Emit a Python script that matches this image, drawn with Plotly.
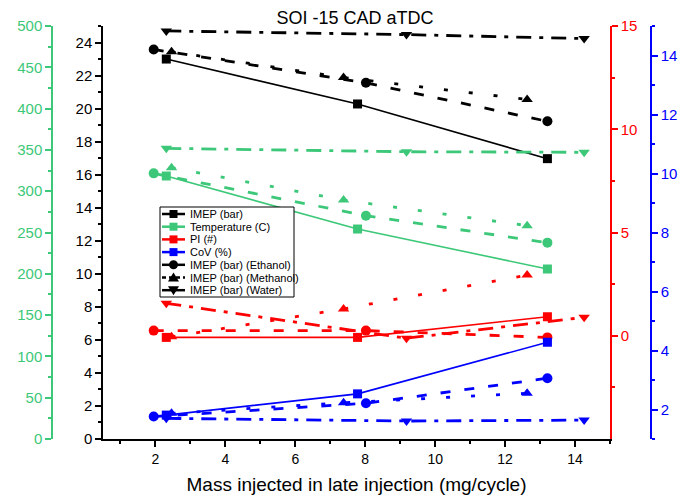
import plotly.graph_objects as go

# x positions (mg/cycle) for each case
x_base = [2.31, 7.78, 13.21]
x_ethanol = [1.95, 8.02, 13.21]
x_methanol = [2.46, 7.38, 12.63]
x_water = [2.31, 9.18, 14.26]

# IMEP (bar)
imep_base = [23.0, 20.28, 16.97]
imep_ethanol = [23.58, 21.56, 19.23]
imep_methanol = [23.44, 21.88, 20.55]
imep_water = [24.7, 24.48, 24.24]

# Temperature (C)
temp_base = [318.4, 254.2, 205.8]
temp_ethanol = [321.6, 270.3, 237.7]
temp_methanol = [328.5, 289.3, 258.3]
temp_water = [351.9, 347.8, 347.1]

# PI (#)
pi_base = [-0.08, -0.08, 0.92]
pi_ethanol = [0.25, 0.25, -0.08]
pi_methanol = [-0.05, 1.30, 2.94]
pi_water = [1.57, -0.12, 0.89]

# CoV (%)
cov_base = [1.81, 2.53, 4.28]
cov_ethanol = [1.76, 2.21, 3.06]
cov_methanol = [1.87, 2.23, 2.55]
cov_water = [1.70, 1.61, 1.64]

BLACK = "#000000"
GREEN = "#3CC878"
RED = "#FF0000"
BLUE = "#0000FF"
FONT = "Arial, Liberation Sans, sans-serif"

# page body has an 8px margin, so the figure is sized to the visible part
W, H = 685, 492
ML, MR, MT, MB = 2, 2, 18, 61
PW, PH = W - ML - MR, H - MT - MB


def px_x(px):
    return (px - 8 - ML) / PW


def px_y(py):
    return (H - MB - (py - 8)) / PH


cases = [
    # (name suffix, x, marker, dash, width)
    ("", x_base, "square", "solid", 1.6),
    (" (Ethanol)", x_ethanol, "circle", "10px,14px", 2.8),
    (" (Methanol)", x_methanol, "triangle-up", "4px,21px", 2.8),
    (" (Water)", x_water, "triangle-down", "15px,8px,4px,8px", 2.8),
]
quantities = [
    ("IMEP (bar)", "y", BLACK, [imep_base, imep_ethanol, imep_methanol, imep_water]),
    ("Temperature (C)", "y2", GREEN, [temp_base, temp_ethanol, temp_methanol, temp_water]),
    ("PI (#)", "y3", RED, [pi_base, pi_ethanol, pi_methanol, pi_water]),
    ("CoV (%)", "y4", BLUE, [cov_base, cov_ethanol, cov_methanol, cov_water]),
]

fig = go.Figure()
for qname, yref, color, series in quantities:
    for (suffix, xs, sym, dash, lw), ys in zip(cases, series):
        fig.add_trace(
            go.Scatter(
                x=xs,
                y=ys,
                yaxis=yref,
                mode="lines+markers",
                line=dict(color=color, width=lw, dash=dash),
                marker=dict(symbol=sym, size=10 if sym != "square" else 9, color=color),
                name=qname + suffix,
                showlegend=False,
                cliponaxis=False,
            )
        )

# legend drawn by hand: native legend rows are taller than the reference's
legend_rows = [
    ("IMEP (bar)", BLACK, "square", "solid"),
    ("Temperature (C)", GREEN, "square", "solid"),
    ("PI (#)", RED, "square", "solid"),
    ("CoV (%)", BLUE, "square", "solid"),
    ("IMEP (bar) (Ethanol)", BLACK, "circle", "solid"),
    ("IMEP (bar) (Methanol)", BLACK, "up", "4px,3px"),
    ("IMEP (bar) (Water)", BLACK, "down", "solid"),
]


def legend_marker(sym, cx, cy, color):
    common = dict(xref="paper", yref="paper", fillcolor=color, line=dict(width=0), layer="above")
    if sym == "square":
        return dict(type="rect", x0=px_x(cx - 4), x1=px_x(cx + 4), y0=px_y(cy + 4), y1=px_y(cy - 4), **common)
    if sym == "circle":
        return dict(type="circle", x0=px_x(cx - 4.5), x1=px_x(cx + 4.5), y0=px_y(cy + 4.5), y1=px_y(cy - 4.5), **common)
    if sym == "up":
        pts = [(cx, cy - 5), (cx + 5.5, cy + 4), (cx - 5.5, cy + 4)]
    else:
        pts = [(cx, cy + 5), (cx + 5.5, cy - 4), (cx - 5.5, cy - 4)]
    path = "M " + " L ".join(f"{px_x(a):.5f},{px_y(b):.5f}" for a, b in pts) + " Z"
    return dict(type="path", path=path, **common)


fig.add_shape(
    type="rect",
    xref="paper",
    yref="paper",
    x0=px_x(160),
    x1=px_x(294),
    y0=px_y(297),
    y1=px_y(207),
    line=dict(color=BLACK, width=1),
    fillcolor="white",
    layer="above",
)
for i, (name, color, sym, dash) in enumerate(legend_rows):
    yc_px = 214 + 12.7 * i
    yc = px_y(yc_px)
    fig.add_shape(
        type="line",
        xref="paper",
        yref="paper",
        x0=px_x(162),
        x1=px_x(185),
        y0=yc,
        y1=yc,
        line=dict(color=color, width=2.5, dash=dash),
        layer="above",
    )
    fig.add_shape(legend_marker(sym, 173.5, yc_px, color))
    fig.add_annotation(
        text=name,
        xref="paper",
        yref="paper",
        x=px_x(188),
        y=yc,
        xanchor="left",
        yanchor="middle",
        showarrow=False,
        font=dict(family=FONT, size=11, color=BLACK),
    )

axis_common = dict(
    showgrid=False,
    zeroline=False,
    showline=True,
    linewidth=1.5,
    ticks="outside",
    ticklen=6,
    tickwidth=1.5,
)

fig.update_layout(
    width=W,
    height=H,
    margin=dict(l=ML, r=MR, t=MT, b=MB),
    paper_bgcolor="white",
    plot_bgcolor="white",
    showlegend=False,
    title=dict(
        text="SOI -15 CAD aTDC",
        x=(355 - 8) / W,
        xanchor="center",
        y=1 - 3.5 / H,
        yanchor="top",
        font=dict(family=FONT, size=18, color=BLACK),
    ),
    xaxis=dict(
        **axis_common,
        domain=[px_x(103), px_x(610)],
        range=[0.5, 15],
        tick0=0,
        dtick=2,
        linecolor=BLACK,
        tickcolor=BLACK,
        tickfont=dict(family=FONT, size=14, color=BLACK),
        minor=dict(dtick=1, tick0=0, ticklen=3, ticks="outside", tickcolor=BLACK),
        title=dict(
            text="Mass injected in late injection (mg/cycle)",
            font=dict(family=FONT, size=19, color=BLACK),
            standoff=12,
        ),
    ),
    yaxis=dict(
        **axis_common,
        anchor="x",
        side="left",
        range=[0, 25],
        tick0=0,
        dtick=2,
        linecolor=BLACK,
        tickcolor=BLACK,
        tickfont=dict(family=FONT, size=15, color=BLACK),
        minor=dict(dtick=1, tick0=0, ticklen=3, ticks="outside", tickcolor=BLACK),
    ),
    yaxis2=dict(
        **axis_common,
        overlaying="y",
        anchor="free",
        position=px_x(52),
        side="left",
        range=[0, 500],
        tick0=0,
        dtick=50,
        linecolor=GREEN,
        tickcolor=GREEN,
        tickfont=dict(family=FONT, size=15, color=GREEN),
        minor=dict(dtick=25, tick0=0, ticklen=3, ticks="outside", tickcolor=GREEN),
    ),
    yaxis3=dict(
        **axis_common,
        overlaying="y",
        anchor="x",
        side="right",
        range=[-5, 15],
        tickmode="array",
        tickvals=[0, 5, 10, 15],
        linecolor=RED,
        tickcolor=RED,
        tickfont=dict(family=FONT, size=15, color=RED),
        minor=dict(tickmode="array", tickvals=[-2.5, 2.5, 7.5, 12.5], ticklen=3, ticks="outside", tickcolor=RED),
    ),
    yaxis4=dict(
        **axis_common,
        overlaying="y",
        anchor="free",
        position=px_x(651),
        side="right",
        range=[1, 15],
        tick0=0,
        dtick=2,
        linecolor=BLUE,
        tickcolor=BLUE,
        tickfont=dict(family=FONT, size=15, color=BLUE),
        minor=dict(dtick=1, tick0=0, ticklen=3, ticks="outside", tickcolor=BLUE),
    ),
)

fig.write_html("out.html")
